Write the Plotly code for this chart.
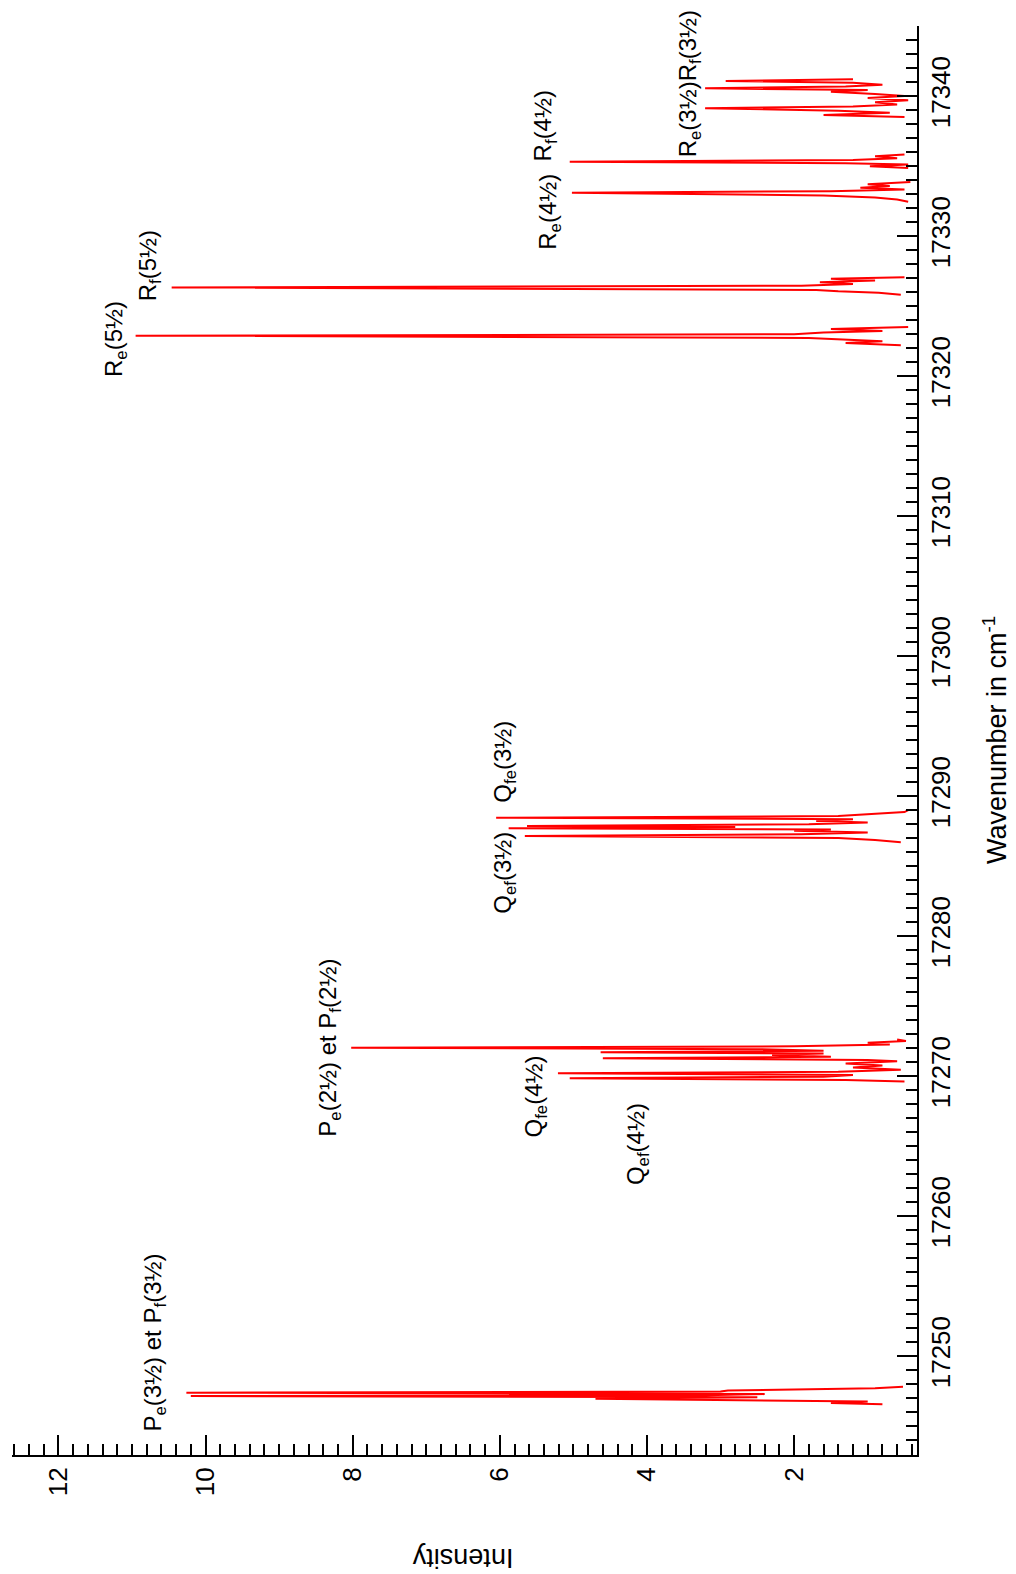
import plotly.graph_objects as go

# ---- data (wavenumber in cm-1, intensity) ----
wn_P3 = [17246.55, 17246.65, 17246.75, 17246.85, 17246.95, 17247.05, 17247.14, 17247.2, 17247.28,
         17247.38, 17247.46, 17247.54, 17247.62, 17247.7, 17247.8]
in_P3 = [0.8, 1.5, 1.0, 3.0, 4.7, 2.5, 10.2, 3.2, 2.4, 10.26, 3.0, 2.9, 1.4, 0.9, 0.52]

wn_P2 = [17269.6, 17269.72, 17269.84, 17269.95, 17270.07, 17270.19, 17270.3, 17270.45, 17270.6,
         17270.75, 17270.9, 17271.05, 17271.15, 17271.26, 17271.38, 17271.5, 17271.6, 17271.69,
         17271.8, 17271.92, 17272.02, 17272.12, 17272.25, 17272.38, 17272.5, 17272.6]
in_P2 = [0.5, 1.3, 5.05, 1.6, 1.2, 5.21, 1.4, 0.55, 1.2, 0.8, 1.3, 0.6, 1.0, 4.6, 1.5, 2.3, 1.6, 4.63,
         1.6, 2.5, 8.02, 2.0, 0.7, 1.0, 0.48, 0.6]

wn_Q3 = [17286.7, 17286.85, 17287.0, 17287.14, 17287.27, 17287.4, 17287.52, 17287.6, 17287.69,
         17287.78, 17287.86, 17287.98, 17288.1, 17288.22, 17288.34, 17288.45, 17288.57, 17288.7,
         17288.85, 17289.0]
in_Q3 = [0.55, 0.9, 1.4, 5.66, 1.9, 1.0, 2.0, 1.5, 5.88, 2.8, 5.63, 1.8, 1.0, 1.7, 1.2, 6.05, 1.4, 0.9,
         0.5, 0.45]

wn_Re5 = [17322.2, 17322.35, 17322.48, 17322.6, 17322.72, 17322.88, 17322.98, 17323.1, 17323.22,
          17323.35, 17323.5]
in_Re5 = [0.55, 1.3, 0.8, 1.4, 1.8, 10.95, 2.0, 1.6, 0.8, 1.5, 0.45]

wn_Rf5 = [17325.8, 17325.95, 17326.05, 17326.15, 17326.33, 17326.45, 17326.58, 17326.7, 17326.82,
          17326.95, 17327.05]
in_Rf5 = [0.55, 0.85, 1.4, 1.7, 10.46, 1.9, 1.2, 1.65, 0.9, 1.5, 0.5]

wn_Re4 = [17332.45, 17332.6, 17332.75, 17332.9, 17333.09, 17333.2, 17333.32, 17333.45, 17333.58,
          17333.7, 17333.85]
in_Re4 = [0.45, 0.6, 0.9, 1.6, 5.02, 1.5, 0.5, 1.1, 0.7, 1.0, 0.42]

wn_Rf4 = [17334.85, 17334.98, 17335.1, 17335.2, 17335.31, 17335.42, 17335.55, 17335.7, 17335.82]
in_Rf4 = [0.45, 0.97, 0.45, 1.3, 5.05, 1.2, 0.6, 0.9, 0.5]

wn_R3 = [17338.5, 17338.64, 17338.8, 17338.95, 17339.12, 17339.25, 17339.4, 17339.55, 17339.7,
         17339.85, 17340.0, 17340.15, 17340.3, 17340.42, 17340.55, 17340.68, 17340.8, 17340.95,
         17341.07, 17341.2]
in_R3 = [0.5, 1.6, 0.7, 1.4, 3.21, 1.2, 0.6, 0.9, 0.45, 1.0, 0.5, 0.9, 1.5, 1.0, 3.21, 1.3, 0.8, 1.2,
         2.93, 1.2]

segments = [(wn_P3, in_P3), (wn_P2, in_P2), (wn_Q3, in_Q3), (wn_Re5, in_Re5),
            (wn_Rf5, in_Rf5), (wn_Re4, in_Re4), (wn_Rf4, in_Rf4), (wn_R3, in_R3)]

# line labels: text, intensity position, wavenumber position
label_text = ["P<sub>e</sub>(3½) et P<sub>f</sub>(3½)",
              "P<sub>e</sub>(2½) et P<sub>f</sub>(2½)",
              "Q<sub>fe</sub>(4½)",
              "Q<sub>ef</sub>(4½)",
              "Q<sub>ef</sub>(3½)",
              "Q<sub>fe</sub>(3½)",
              "R<sub>e</sub>(5½)",
              "R<sub>f</sub>(5½)",
              "R<sub>e</sub>(4½)",
              "R<sub>f</sub>(4½)",
              "R<sub>e</sub>(3½)R<sub>f</sub>(3½)"]
label_int = [10.69, 8.32, 5.51, 4.13, 5.94, 5.94, 11.23, 10.75, 5.32, 5.38, 3.41]
label_wn = [17250.94, 17272.03, 17268.53, 17265.17, 17284.54, 17292.47, 17322.64, 17327.86,
            17331.72, 17337.86, 17340.86]

x_range = [12.63, 0.33]
y_range = [17242.93, 17345.0]

# ---- build figure ----
xs, ys = [], []
for wn, it in segments:
    xs.extend(it + [None])
    ys.extend(wn + [None])

fig = go.Figure()
fig.add_trace(go.Scatter(x=xs, y=ys, mode="lines", connectgaps=False,
                         line=dict(color="#ff0000", width=2), hoverinfo="skip",
                         showlegend=False))

font_family = "Arial, Liberation Sans, sans-serif"
for t, xi, yi in zip(label_text, label_int, label_wn):
    fig.add_annotation(x=xi, y=yi, xref="x", yref="y", text=t, showarrow=False,
                       textangle=-90, font=dict(family=font_family, size=24, color="black"),
                       xanchor="center", yanchor="middle")

fig.add_annotation(x=0.498, y=-0.072, xref="paper", yref="paper", text="Intensity",
                   showarrow=False, textangle=180,
                   font=dict(family=font_family, size=27, color="black"),
                   xanchor="center", yanchor="middle")
fig.add_annotation(x=1.0862, y=0.5003, xref="paper", yref="paper",
                   text="Wavenumber in cm<sup>-1</sup>", showarrow=False, textangle=-90,
                   font=dict(family=font_family, size=27, color="black"),
                   xanchor="center", yanchor="middle")

axis_common = dict(showline=True, linecolor="black", linewidth=2, showgrid=False,
                   zeroline=False, ticks="inside", ticklen=20, tickwidth=2, tickcolor="black",
                   tickangle=-90, tickfont=dict(family=font_family, size=26, color="black"))

fig.update_xaxes(range=x_range, dtick=2, tick0=0,
                 minor=dict(ticks="inside", ticklen=11, tickwidth=2, tickcolor="black",
                            dtick=0.2, tick0=0, showgrid=False),
                 **axis_common)
fig.update_yaxes(range=y_range, side="right", dtick=10, tick0=17240, tickformat="d",
                 minor=dict(ticks="inside", ticklen=11, tickwidth=2, tickcolor="black",
                            dtick=1, tick0=17240, showgrid=False),
                 **axis_common)

fig.update_layout(width=1016, height=1574,
                  margin=dict(l=12, r=99, t=26, b=119, autoexpand=False),
                  plot_bgcolor="white", paper_bgcolor="white",
                  font=dict(family=font_family))

fig.write_html("out.html", config={"displayModeBar": False},
               post_script="document.body.style.margin='0';document.body.style.overflow='hidden';")
